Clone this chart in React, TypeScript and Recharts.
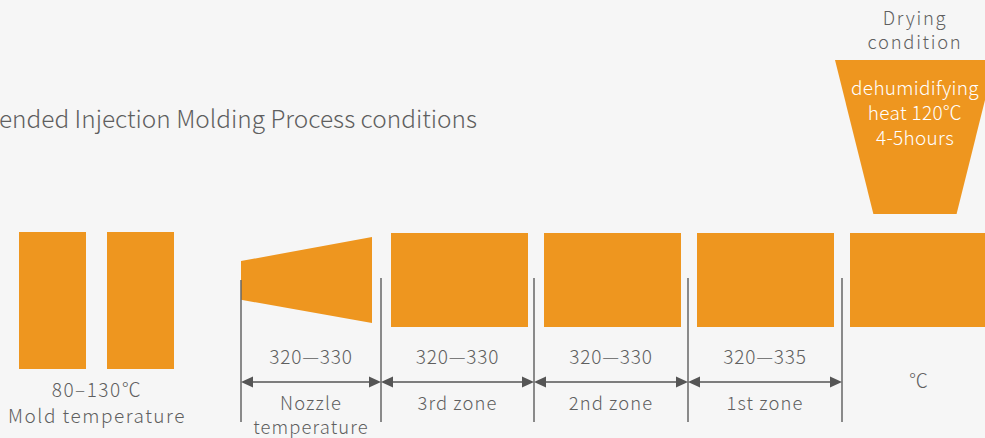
import { ComposedChart, XAxis, YAxis, ReferenceArea, ReferenceLine, ReferenceDot } from 'recharts';

// content
const title = 'ended Injection Molding Process conditions';
const moldRange = '80–130℃';
const moldLabel = 'Mold temperature';
const zoneRanges = ['320—330', '320—330', '320—330', '320—335'];
const zoneNames = [['Nozzle', 'temperature'], ['3rd zone'], ['2nd zone'], ['1st zone']];
const hopperUnit = '℃';
const dryingTitle = ['Drying', 'condition'];
const dryingText = ['dehumidifying', 'heat 120℃', '4-5hours'];

// layout (diagram units = px)
const W = 985;
const H = 438;
const moldBlocks = [[19, 86], [107, 174]];
const barrelBlocks = [[391, 528], [544, 681], [697, 834], [850, 985]];
const dividers = [241, 381, 534, 688, 842];

const ORANGE = '#ee961f';
const GREY = '#5f5f5f';
const FONT = '"Noto Sans CJK SC", "Noto Sans", sans-serif';

type TextOpts = { size?: number; fill?: string; anchor?: 'start' | 'middle' | 'end'; gap?: number; spacing?: number };

const textShape = (lines: string[], opts: TextOpts = {}) =>
  (p: any) => (
    <text
      x={p.cx}
      y={p.cy}
      fill={opts.fill ?? GREY}
      fontSize={opts.size ?? 19}
      fontFamily={FONT}
      fontWeight={300}
      letterSpacing={opts.spacing ?? 0.8}
      textAnchor={opts.anchor ?? 'middle'}
    >
      {lines.map((l, i) => (
        <tspan key={i} x={p.cx} dy={i === 0 ? 0 : opts.gap ?? 24}>{l}</tspan>
      ))}
    </text>
  );

// nozzle: taper from narrow left to tall right
const NozzleShape = (p: any) => {
  const { x, y, width, height } = p;
  const tl = y + height * 0.28;
  const bl = y + height * 0.73;
  return <polygon points={`${x},${tl} ${x + width},${y} ${x + width},${y + height} ${x},${bl}`} fill={ORANGE} />;
};

// hopper: trapezoid, wide top
const HopperShape = (p: any) => {
  const { x, y, width, height } = p;
  const inset = width * 0.24;
  return (
    <polygon
      points={`${x},${y} ${x + width},${y} ${x + width - inset},${y + height} ${x + inset},${y + height}`}
      fill={ORANGE}
    />
  );
};

const ArrowShape = (p: any) => {
  const { x1, y1, x2 } = p;
  const a = 12;
  const h = 5.5;
  return (
    <g fill="#555" stroke="#555">
      <line x1={x1 + a} y1={y1} x2={x2 - a} y2={y1} strokeWidth={1.5} />
      <polygon points={`${x1},${y1} ${x1 + a},${y1 - h} ${x1 + a},${y1 + h}`} stroke="none" />
      <polygon points={`${x2},${y1} ${x2 - a},${y1 - h} ${x2 - a},${y1 + h}`} stroke="none" />
    </g>
  );
};

export default function App() {
  return (
    <div style={{ position: 'absolute', left: 0, top: 0, width: W, height: H, background: '#f6f6f6' }}>
      <ComposedChart width={W} height={H} margin={{ top: 0, right: 0, bottom: 0, left: 0 }}>
        <XAxis type="number" dataKey="x" domain={[0, W]} hide allowDataOverflow />
        <YAxis type="number" domain={[0, H]} reversed hide width={0} allowDataOverflow />

        {/* title */}
        <ReferenceDot
          x={-1}
          y={128}
          r={0}
          ifOverflow="visible"
          shape={textShape([title], { size: 24.4, anchor: 'start', spacing: 0 })}
        />

        {/* mold */}
        {moldBlocks.map(([a, b], i) => (
          <ReferenceArea key={`m${i}`} x1={a} x2={b} y1={232} y2={369} fill={ORANGE} fillOpacity={1} stroke="none" />
        ))}
        <ReferenceDot x={97} y={397} r={0} shape={textShape([moldRange, moldLabel], { size: 19, gap: 26, spacing: 1.5 })} />

        {/* barrel */}
        <ReferenceArea x1={241} x2={372} y1={237} y2={323} shape={NozzleShape} />
        {barrelBlocks.map(([a, b], i) => (
          <ReferenceArea key={`b${i}`} x1={a} x2={b} y1={233} y2={327} fill={ORANGE} fillOpacity={1} stroke="none" />
        ))}

        {dividers.map((d, i) => (
          <ReferenceLine
            key={`d${i}`}
            segment={[{ x: d, y: i === 0 ? 280 : 278 }, { x: d, y: 422 }]}
            stroke="#666"
            strokeWidth={1.5}
          />
        ))}
        {zoneRanges.map((_, i) => (
          <ReferenceLine
            key={`a${i}`}
            segment={[{ x: dividers[i], y: 382 }, { x: dividers[i + 1], y: 382 }]}
            shape={ArrowShape}
          />
        ))}
        {zoneRanges.map((r, i) => (
          <ReferenceDot
            key={`r${i}`}
            x={(dividers[i] + dividers[i + 1]) / 2}
            y={364}
            r={0}
            shape={textShape([r])}
          />
        ))}
        {zoneNames.map((n, i) => (
          <ReferenceDot
            key={`n${i}`}
            x={(dividers[i] + dividers[i + 1]) / 2}
            y={410}
            r={0}
            shape={textShape(n, { size: 18.4, gap: 24, spacing: 1.1 })}
          />
        ))}
        <ReferenceDot x={919} y={388} r={0} shape={textShape([hopperUnit])} />

        {/* drying */}
        <ReferenceDot x={915} y={25} r={0} shape={textShape(dryingTitle, { size: 18.4, gap: 24, spacing: 1.7 })} />
        <ReferenceArea x1={835} x2={995} y1={60} y2={214} shape={HopperShape} ifOverflow="visible" />
        <ReferenceDot x={915} y={95} r={0} shape={textShape(dryingText, { fill: '#fff', gap: 25, spacing: 0.3 })} />
      </ComposedChart>
    </div>
  );
}
